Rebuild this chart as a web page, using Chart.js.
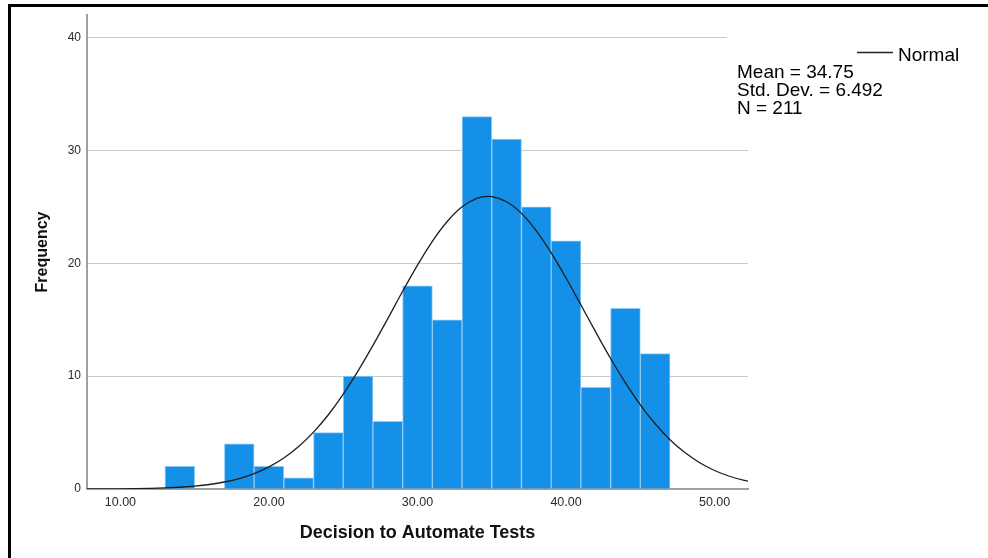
<!DOCTYPE html>
<html lang="en">

<head>
    <meta charset="UTF-8">
    <title>Decision to Automate Tests</title>
    <script src="https://cdn.jsdelivr.net/npm/chart.js"></script>
    <style>
        html, body {
            margin: 0;
            padding: 0;
            background: #fff;
        }
        #wrap {
            width: 988px;
            height: 558px;
        }
    </style>
</head>

<body>
    <div id="wrap">
        <canvas id="histChart" width="988" height="558"></canvas>
    </div>
    <script>
        // histogram bins (width 2), centre of each bin
        const binCenters = [14, 16, 18, 20, 22, 24, 26, 28, 30, 32, 34, 36, 38, 40, 42, 44, 46]
        const frequencies = [2, 0, 4, 2, 1, 5, 10, 6, 18, 15, 33, 31, 25, 22, 9, 16, 12]

        // normal curve
        const curveX = [7.75, 9, 10, 11, 12, 13, 14, 15, 16, 17, 18, 19, 20, 21, 22, 23, 24, 25, 26, 27, 28, 29, 30,
            31, 32, 33, 34, 34.75, 35, 36, 37, 38, 39, 40, 41, 42, 43, 44, 45, 46, 47, 48, 49, 50, 51, 52, 52.25]
        const curveY = [0.005, 0.01, 0.018, 0.032, 0.056, 0.095, 0.157, 0.254, 0.40, 0.62, 0.93, 1.37, 1.96, 2.75, 3.77,
            5.04, 6.58, 8.40, 10.46, 12.72, 15.10, 17.52, 19.84, 21.95, 23.70, 25.00, 25.76, 25.93, 25.91, 25.45, 24.42,
            22.88, 20.93, 18.70, 16.31, 13.90, 11.56, 9.40, 7.46, 5.78, 4.37, 3.23, 2.33, 1.64, 1.13, 0.76, 0.69]

        const xTicks = [10, 20, 30, 40, 50]
        const yTicks = [0, 10, 20, 30, 40]

        const statsLines = ["Mean = 34.75", "Std. Dev. = 6.492", "N = 211"]

        const fontFamily = "'Liberation Sans', Arial, sans-serif"

        const spssDecor = {
            id: 'spssDecor',
            beforeDraw(chart) {
                const ctx = chart.ctx
                ctx.save()
                ctx.fillStyle = '#fff'
                ctx.fillRect(0, 0, chart.width, chart.height)
                ctx.restore()
            },
            beforeDatasetsDraw(chart) {
                // legend box hides the end of the top grid line
                const ctx = chart.ctx
                ctx.save()
                ctx.fillStyle = '#fff'
                ctx.fillRect(727, 30, 30, 14)
                ctx.restore()
            },
            afterDraw(chart) {
                const ctx = chart.ctx
                ctx.save()
                // frame
                ctx.fillStyle = '#000'
                ctx.fillRect(8, 4, chart.width - 8, 3)
                ctx.fillRect(8, 4, 3, chart.height - 4)

                // legend line + label
                ctx.strokeStyle = '#222'
                ctx.lineWidth = 1.5
                ctx.beginPath()
                ctx.moveTo(857, 52.5)
                ctx.lineTo(893, 52.5)
                ctx.stroke()

                ctx.fillStyle = '#000'
                ctx.font = "19px " + fontFamily
                ctx.textBaseline = 'middle'
                ctx.textAlign = 'left'
                ctx.fillText("Normal", 898, 56)
                statsLines.forEach((line, i) => {
                    ctx.fillText(line, 737, 73 + i * 18)
                })
                ctx.restore()
            }
        }

        const ctx = document.getElementById('histChart')

        const histChart = new Chart(ctx, {
            type: 'bar',
            data: {
                datasets: [{
                    type: 'line',
                    label: 'Normal',
                    data: curveX.map((x, i) => ({ x: x, y: curveY[i] })),
                    borderColor: '#1e1e1e',
                    borderWidth: 1.3,
                    pointRadius: 0,
                    cubicInterpolationMode: 'monotone',
                    fill: false,
                    order: 0
                }, {
                    type: 'bar',
                    label: 'Frequency',
                    data: binCenters.map((x, i) => ({ x: x, y: frequencies[i] })),
                    backgroundColor: '#1490e8',
                    borderColor: '#8fcbf6',
                    borderWidth: 1,
                    borderSkipped: 'bottom',
                    barPercentage: 1,
                    categoryPercentage: 1,
                    order: 1
                }]
            },
            options: {
                responsive: false,
                animation: false,
                layout: {
                    padding: { top: 15, right: 240, left: 0, bottom: 0 }
                },
                plugins: {
                    legend: { display: false },
                    tooltip: { enabled: false }
                },
                scales: {
                    x: {
                        type: 'linear',
                        min: 7.75,
                        max: 52.25,
                        offset: false,
                        afterFit(scale) { scale.height = 69 },
                        afterBuildTicks(scale) { scale.ticks = xTicks.map(v => ({ value: v })) },
                        grid: { display: true, color: 'rgba(0,0,0,0)', drawTicks: false },
                        border: { display: true, color: '#a0a0a0', width: 2 },
                        ticks: {
                            padding: 6,
                            maxRotation: 0,
                            color: '#2a2a2a',
                            font: { family: fontFamily, size: 12.5 },
                            callback: v => Number(v).toFixed(2)
                        },
                        title: {
                            display: true,
                            text: 'Decision to Automate Tests',
                            color: '#111',
                            font: { family: fontFamily, size: 18, weight: 'bold' },
                            padding: { top: 0, bottom: 14 }
                        }
                    },
                    y: {
                        type: 'linear',
                        min: 0,
                        max: 42,
                        afterFit(scale) { scale.width = 87 },
                        afterBuildTicks(scale) { scale.ticks = yTicks.map(v => ({ value: v })) },
                        grid: { color: '#c8c8c8', lineWidth: 1, drawTicks: false },
                        border: { display: true, color: '#a0a0a0', width: 2 },
                        ticks: {
                            padding: 6,
                            color: '#2a2a2a',
                            font: { family: fontFamily, size: 12 }
                        },
                        title: {
                            display: true,
                            text: 'Frequency',
                            color: '#111',
                            font: { family: fontFamily, size: 16, weight: 'bold' },
                            padding: { top: 33, bottom: 0 }
                        }
                    }
                }
            },
            plugins: [spssDecor]
        })
    </script>
</body>

</html>
